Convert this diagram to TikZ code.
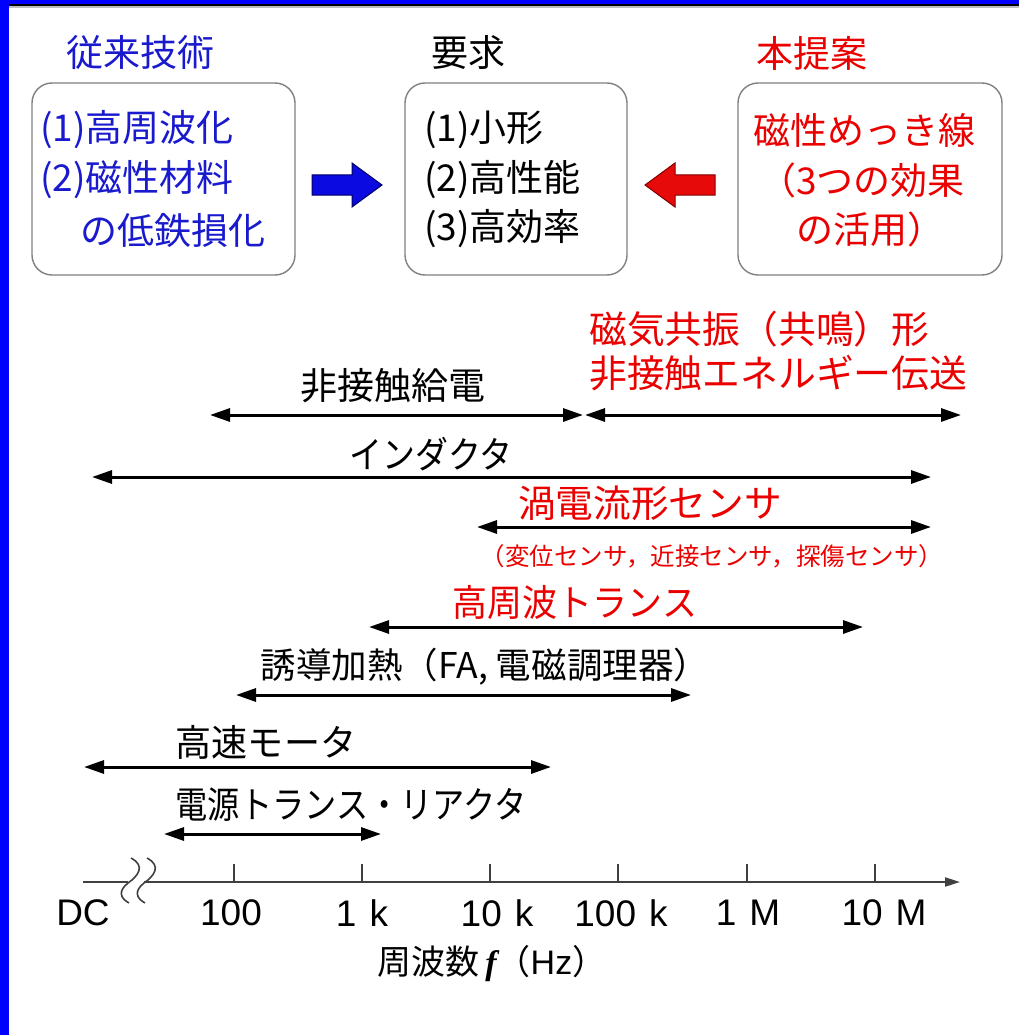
\documentclass[tikz,border=0pt]{standalone}
\usepackage{fontspec}
\setmainfont{Noto Sans CJK JP}
\newfontfamily\latinsans{Liberation Sans}
\newfontfamily\latinserif{Liberation Serif}
\usetikzlibrary{arrows.meta}
\definecolor{tblue}{RGB}{25,25,205}
\definecolor{tred}{RGB}{235,0,0}
\definecolor{barblue}{RGB}{0,0,255}
\definecolor{arrblue}{RGB}{10,10,225}
\definecolor{arrred}{RGB}{230,10,10}
\begin{document}
\begin{tikzpicture}[x=1pt,y=-1pt,
  txt/.style={inner sep=0pt, font=\fontsize{37}{42}\selectfont},
  fs/.style={font=\fontsize{#1}{#1}\selectfont},
  smalltxt/.style={inner sep=0pt, font=\fontsize{24.5}{28}\selectfont},
  ticklbl/.style={inner sep=0pt, font=\latinsans\fontsize{37}{40}\selectfont},
  boxstyle/.style={draw=black!50, line width=1.4pt, rounded corners=20pt, inner sep=0pt},
  dbl/.style={line width=3pt, {Triangle[length=20pt,width=13pt]}-{Triangle[length=20pt,width=13pt]}},
  axisline/.style={line width=2pt, draw=black!75},
  wave/.style={line width=1.6pt, draw=black!75}]
\useasboundingbox (0,0) rectangle (1019,1035);
\fill[white] (0,0) rectangle (1019,1035);
% frame
\fill[barblue] (0,0) rectangle (1019,4);
\fill[black] (0,4) rectangle (1019,6.5);
\fill[black!25] (0,6.5) rectangle (1019,8);
\fill[barblue] (0,0) rectangle (9,1035);

% titles
\node[txt, text=tblue] (t1) at (140,53) {従来技術};
\node[txt] (t2) at (468,53) {要求};
\node[txt, text=tred] (t3) at (812,53) {本提案};

% boxes
\node[boxstyle, minimum width=263pt, minimum height=192pt] (box1) at (163.5,179) {};
\node[boxstyle, minimum width=222pt, minimum height=192pt] (box2) at (516,179) {};
\node[boxstyle, minimum width=264pt, minimum height=192pt] (box3) at (870,179) {};

\node[txt, text=tblue, anchor=west] (b1a) at (40,130) {(1)高周波化};
\node[txt, text=tblue, anchor=west] (b1b) at (40,180) {(2)磁性材料};
\node[txt, text=tblue, anchor=west] (b1c) at (80,230) {の低鉄損化};

\node[txt, anchor=west] (b2a) at (424,130) {(1)小形};
\node[txt, anchor=west] (b2b) at (424,180) {(2)高性能};
\node[txt, anchor=west] (b2c) at (424,229) {(3)高効率};

\node[txt, text=tred] (b3a) at (864,130) {磁性めっき線};
\node[txt, text=tred] (b3b) at (862,180) {（3つの効果};
\node[txt, text=tred] (b3c) at (870,229) {の活用）};

% block arrows
\filldraw[fill=arrblue, draw=blue!40!black, line width=1pt]
  (312,175) -- (352,175) -- (352,163) -- (382,185) -- (352,207) -- (352,195) -- (312,195) -- cycle;
\filldraw[fill=arrred, draw=red!50!black, line width=1pt]
  (715,175) -- (675,175) -- (675,163) -- (645,185) -- (675,207) -- (675,195) -- (715,195) -- cycle;

% range arrows
\coordinate (a1l) at (210,415); \coordinate (a1r) at (583,415);
\coordinate (a2l) at (585,415); \coordinate (a2r) at (961,415);
\coordinate (a3l) at (92,477);  \coordinate (a3r) at (931,477);
\coordinate (a4l) at (477,527); \coordinate (a4r) at (931,527);
\coordinate (a5l) at (369,627); \coordinate (a5r) at (863,627);
\coordinate (a6l) at (236,695); \coordinate (a6r) at (691,695);
\coordinate (a7l) at (84,767);  \coordinate (a7r) at (551,767);
\coordinate (a8l) at (164,834); \coordinate (a8r) at (381,834);
\draw[dbl] (a1l) -- (a1r);
\draw[dbl] (a2l) -- (a2r);
\draw[dbl] (a3l) -- (a3r);
\draw[dbl] (a4l) -- (a4r);
\draw[dbl] (a5l) -- (a5r);
\draw[dbl] (a6l) -- (a6r);
\draw[dbl] (a7l) -- (a7r);
\draw[dbl] (a8l) -- (a8r);

\node[txt] (l1) at (393,386) {非接触給電};
\node[txt, fs=37.8, text=tred, anchor=west] (l2a) at (589,329) {磁気共振（共鳴）形};
\node[txt, fs=37.8, text=tred, anchor=west] (l2b) at (589,373) {非接触エネルギー伝送};
\node[txt, xscale=0.89] (l3) at (431,454) {インダクタ};
\node[txt, fs=37.7, text=tred] (l4) at (650,503) {渦電流形センサ};
\node[smalltxt, text=tred] (l4s) at (712,556) {（変位センサ，近接センサ，探傷センサ）};
\node[txt, xscale=0.945, text=tred] (l5) at (575,603) {高周波トランス};
\node[txt, fs=35.5] (l6) at (485,667) {誘導加熱（FA, 電磁調理器）};
\node[txt, xscale=0.975] (l7) at (266,742) {高速モータ};
\node[txt, xscale=0.87] (l8) at (351,805) {電源トランス・リアクタ};

% axis
\coordinate (ax0) at (83,882);
\coordinate (axb1) at (128,882);
\coordinate (axb2) at (144,882);
\coordinate (ax1) at (960,882);
\draw[axisline] (ax0) -- (axb1);
\draw[axisline, -{Triangle[length=15pt,width=9pt]}] (axb2) -- (ax1);
\draw[wave] (131,858) .. controls (146,866) and (138,876) .. (128,883) .. controls (118,891) and (120,898) .. (129,903);
\draw[wave] (147,858) .. controls (162,866) and (154,876) .. (144,883) .. controls (134,891) and (136,898) .. (145,903);
\foreach \x/\nm in {234/k1,362/k2,490/k3,618/k4,747/k5,875/k6}{
  \coordinate (\nm) at (\x,882);
  \draw[axisline] (\nm) -- ++(0,-18);
}
\node[ticklbl] (d0) at (83,913) {DC};
\node[ticklbl] (d1) at (231,913) {100};
\node[ticklbl] (d2) at (362,913) {1\hspace{0.35em}k};
\node[ticklbl] (d3) at (497,913) {10\hspace{0.35em}k};
\node[ticklbl] (d4) at (621,913) {100\hspace{0.35em}k};
\node[ticklbl] (d5) at (748,913) {1\hspace{0.35em}M};
\node[ticklbl] (d6) at (884,913) {10\hspace{0.35em}M};
\node[txt, fs=34] (axl) at (492,964) {周波数\,{\latinserif\bfseries\itshape f}（{\latinsans Hz}）};
\end{tikzpicture}
\end{document}
